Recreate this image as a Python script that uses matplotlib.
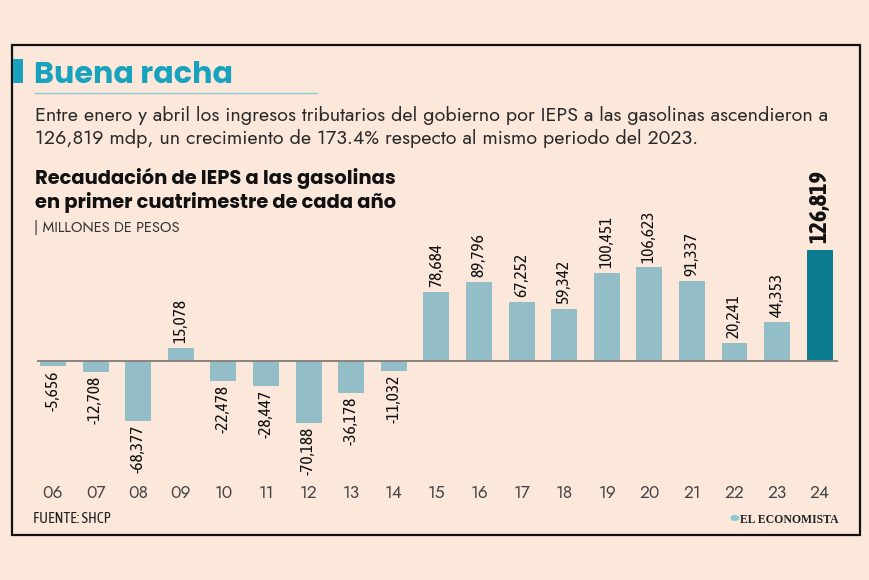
import matplotlib
matplotlib.use("Agg")
import matplotlib.pyplot as plt
from matplotlib.patches import Rectangle, Circle
from matplotlib.lines import Line2D
from matplotlib import font_manager as fm

years = ["06", "07", "08", "09", "10", "11", "12", "13", "14", "15",
         "16", "17", "18", "19", "20", "21", "22", "23", "24"]
values = [-5656, -12708, -68377, 15078, -22478, -28447, -70188, -36178, -11032,
          78684, 89796, 67252, 59342, 100451, 106623, 91337, 20241, 44353, 126819]

title = "Buena racha"
subtitle = ["Entre enero y abril los ingresos tributarios del gobierno por IEPS a las gasolinas ascendieron a",
            "126,819 mdp, un crecimiento de 173.4% respecto al mismo periodo del 2023."]
chart_title = ["Recaudación de IEPS a las gasolinas", "en primer cuatrimestre de cada año"]
units = "| MILLONES DE PESOS"
source = "FUENTE: SHCP"
brand = "EL ECONOMISTA"


def pick(cands, minweight=0):
    for c in cands:
        if any(f.name == c and f.weight >= minweight for f in fm.fontManager.ttflist):
            return c
    return "DejaVu Sans"


geo = pick(["Jost", "Lato"])
geob = pick(["Poppins", "Montserrat", "Lato"], 700)
cond = pick(["Asap Condensed", "Archivo Narrow", "Sofia Sans Extra Condensed"])
condb = pick(["Asap Condensed", "Archivo Narrow"], 700)
serif = pick(["Liberation Serif", "DejaVu Serif"])

BG = "#FBE8DB"
BAR = "#93BDC7"
HL = "#0B7B90"
TEAL = "#17A2BE"

W, H = 870, 580
fig = plt.figure(figsize=(W / 100, H / 100), dpi=100, facecolor=BG)


def fx(x):
    return x / W


def fy(y):
    return 1 - y / H


# border box
fig.patches.append(Rectangle((fx(12), fy(535)), fx(860) - fx(12), fy(45) - fy(535),
                             transform=fig.transFigure, fill=False, ec="#111111", lw=1.6))
# title marker
fig.patches.append(Rectangle((fx(13), fy(83)), fx(10), fy(59) - fy(83),
                             transform=fig.transFigure, fc=TEAL, ec="none"))
fig.text(fx(34), fy(83), title, color=TEAL, fontsize=21.8, fontweight="bold",
         family=geob, va="baseline", ha="left")
fig.lines.append(Line2D([fx(35), fx(317)], [fy(93), fy(93)], transform=fig.transFigure,
                        color="#8EC8D4", lw=1))
fig.text(fx(35), fy(121), subtitle[0], fontsize=14.2, family=geo, fontweight=300,
         color="#2a2a2a", va="baseline", ha="left")
fig.text(fx(35), fy(144), subtitle[1], fontsize=14.2, family=geo, fontweight=300,
         color="#2a2a2a", va="baseline", ha="left")
fig.text(fx(35), fy(184), chart_title[0], fontsize=14, family=geob, fontweight="bold",
         color="#111111", va="baseline", ha="left")
fig.text(fx(35), fy(208), chart_title[1], fontsize=14, family=geob, fontweight="bold",
         color="#111111", va="baseline", ha="left")
fig.text(fx(34), fy(232), units, fontsize=10.5, family=geo, fontweight=300,
         color="#333333", va="baseline", ha="left")
fig.text(fx(33), fy(523), source, fontsize=11, family=condb,
         color="#222222", va="baseline", ha="left")
fig.text(fx(839), fy(523), brand, fontsize=8.5, family=serif, fontweight="bold",
         color="#222222", va="baseline", ha="right")
fig.patches.append(Circle((fx(735), fy(518)), 4.5 / W, transform=fig.transFigure,
                          fc="#8EC8D4", ec="none"))

# bar axes
top_px, bot_px, base_px = 240, 470, 361
unit_per_px = 1140.0
ax = fig.add_axes([fx(37), fy(bot_px), fx(838) - fx(37), fy(top_px) - fy(bot_px)])
ax.set_facecolor("none")
x = list(range(len(years)))
colors = [BAR] * (len(years) - 1) + [HL]
ax.bar(x, values, width=0.61, color=colors, zorder=2)
ax.axhline(0, color="#8a837d", lw=1.4, zorder=3)
ax.set_xlim(-0.375, 18.43)
ax.set_ylim(-(bot_px - base_px) * unit_per_px, (base_px - top_px) * unit_per_px)
for s in ax.spines.values():
    s.set_visible(False)
ax.set_xticks([])
ax.set_yticks([])

for i, v in enumerate(values):
    last = i == len(values) - 1
    label = f"{v:,}"
    if last:
        ax.annotate(label, (i, v), xytext=(0, 5), textcoords="offset points",
                    rotation=90, ha="center", va="bottom", fontsize=17.5,
                    fontweight="bold", family=condb, color="#111111")
    else:
        off = 3.5 if v > 0 else -3
        ax.annotate(label, (i, v), xytext=(0, off), textcoords="offset points",
                    rotation=90, ha="center", va="bottom" if v > 0 else "top",
                    fontsize=12.5, family=cond, color="#111111")

# year labels
for i, y in enumerate(years):
    px = 53 + i * (820 - 53) / 18
    fig.text(fx(px), fy(498), y, fontsize=12.5, family=geo, fontweight=300,
             color="#444444", ha="center", va="baseline")

fig.savefig("out.png", dpi=100, facecolor=BG)
